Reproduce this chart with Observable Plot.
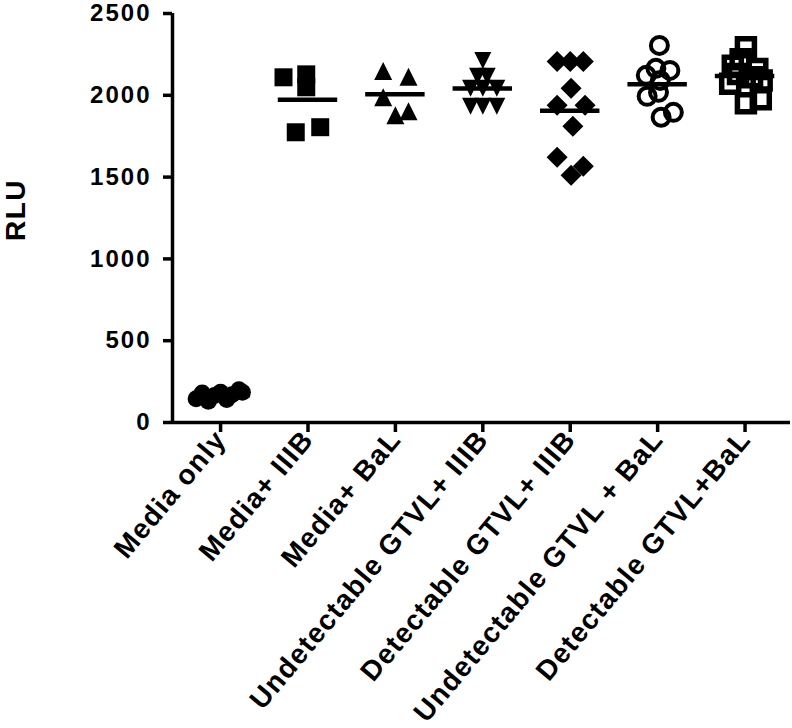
<!DOCTYPE html>
<html><head><meta charset="utf-8">
<script src="https://cdn.jsdelivr.net/npm/d3@7"></script>
<script src="https://cdn.jsdelivr.net/npm/@observablehq/plot@0.6"></script>
<style>
body{margin:0;background:#fff}
svg{font-family:"Liberation Sans",Arial,sans-serif;}
g[aria-label="y-axis tick label"] text{letter-spacing:2px}
g[aria-label="x-axis tick label"] text{letter-spacing:1.2px}
</style>
</head><body><div id="chart"></div>
<script>
const categories = ["Media only","Media+ IIIB","Media+ BaL","Undetectable GTVL+ IIIB","Detectable GTVL+ IIIB","Undetectable GTVL + BaL","Detectable GTVL+BaL"];
const yTicks = [0, 500, 1000, 1500, 2000, 2500];
const yLabel = "RLU";

// values (RLU) and horizontal scatter (fraction of category spacing)
const mediaOnly = [145, 180, 130, 165, 185, 140, 170, 200, 185];
const mediaOnlyJitter = [-0.28, -0.21, -0.14, -0.07, 0, 0.07, 0.13, 0.21, 0.25];
const mediaIIIB = [2110, 2128, 2049, 1774, 1805];
const mediaIIIBJitter = [-0.28, -0.02, -0.02, -0.14, 0.14];
const mediaBaL = [2149, 2113, 1988, 1878, 1902];
const mediaBaLJitter = [-0.14, 0.15, -0.14, 0, 0.15];
const undetIIIB = [2213, 2116, 2116, 2043, 2043, 2043, 1933, 1933, 1933];
const undetIIIBJitter = [0, -0.06, 0.05, -0.14, 0, 0.16, -0.14, 0, 0.16];
const detIIIB = [2207, 2207, 2207, 2043, 1939, 1939, 1811, 1622, 1512, 1567];
const detIIIBJitter = [-0.15, 0, 0.15, 0.01, -0.15, 0.17, 0.03, -0.15, 0.01, 0.15];
const undetBaL = [2305, 2122, 2165, 2152, 2091, 1994, 2018, 1866, 1896];
const undetBaLJitter = [0.02, -0.13, -0.02, 0.14, 0.03, -0.12, 0.01, 0.04, 0.18];
const detBaL = [2293, 2220, 2180, 2160, 2130, 2110, 2090, 2070, 1976, 1951];
const detBaLJitter = [0.01, -0.05, -0.14, 0.14, -0.08, 0.08, 0.19, -0.17, 0.18, 0.01];

const R = (size) => Math.sqrt(size / Math.PI);
const symSquare = {draw(c, s){const r=R(s); c.moveTo(-r,-r); c.lineTo(r,-r); c.lineTo(r,r); c.lineTo(-r,r); c.closePath();}};
const symTriUp = {draw(c, s){const r=R(s); c.moveTo(0,-r); c.lineTo(r,r); c.lineTo(-r,r); c.closePath();}};
const symTriDown = {draw(c, s){const r=R(s); c.moveTo(0,r); c.lineTo(r,-r); c.lineTo(-r,-r); c.closePath();}};
const symDiamond = {draw(c, s){const r=R(s); c.moveTo(0,-r); c.lineTo(r,0); c.lineTo(0,r); c.lineTo(-r,0); c.closePath();}};
const symCircle = {draw(c, s){const r=R(s); c.moveTo(r,0); c.arc(0,0,r,0,2*Math.PI); c.closePath();}};

const groups = [
  {values: mediaOnly, jitter: mediaOnlyJitter, symbol: symCircle, fill: "black", stroke: "none", r: 8.5, sw: 0},
  {values: mediaIIIB, jitter: mediaIIIBJitter, symbol: symSquare, fill: "black", stroke: "none", r: 9, sw: 0},
  {values: mediaBaL, jitter: mediaBaLJitter, symbol: symTriUp, fill: "black", stroke: "none", r: 9, sw: 0},
  {values: undetIIIB, jitter: undetIIIBJitter, symbol: symTriDown, fill: "black", stroke: "none", r: 8.5, sw: 0},
  {values: detIIIB, jitter: detIIIBJitter, symbol: symDiamond, fill: "black", stroke: "none", r: 10.5, sw: 0},
  {values: undetBaL, jitter: undetBaLJitter, symbol: symCircle, fill: "none", stroke: "black", r: 8.5, sw: 4},
  {values: detBaL, jitter: detBaLJitter, symbol: symSquare, fill: "none", stroke: "black", r: 8.5, sw: 5.5}
];

const xDomain = [-0.55, 6.52];
const yDomain = [0, 2500];
const lw = 3.5;

const marks = [];
groups.forEach((g, i) => {
  const rows = g.values.map((v, j) => ({x: i + g.jitter[j], y: v}));
  marks.push(Plot.dot(rows, {x: "x", y: "y", symbol: g.symbol, r: g.r, fill: g.fill, stroke: g.stroke, strokeWidth: g.sw}));
});
const means = groups.map((g, i) => ({i, m: d3.mean(g.values)}));
marks.push(Plot.ruleY(means, {y: "m", x1: d => d.i - 0.34, x2: d => d.i + 0.34, strokeWidth: 4.5, stroke: "black"}));

marks.push(Plot.ruleY([0], {x1: xDomain[0], x2: xDomain[1], strokeWidth: lw}));
marks.push(Plot.ruleX([xDomain[0]], {y1: yDomain[0], y2: yDomain[1], strokeWidth: lw}));
marks.push(Plot.axisY({ticks: yTicks, tickFormat: d => String(d), tickSize: 9, tickPadding: 12, fontSize: 24, fontWeight: "bold", label: null}));
marks.push(Plot.axisX({ticks: d3.range(7), tickFormat: i => categories[i], tickSize: 10, tickRotate: -50, tickPadding: 2, fontSize: 28, fontWeight: "bold", label: null}));
marks.push(Plot.text([yLabel], {text: d => d, x: () => xDomain[0], y: () => d3.mean(yDomain), dx: -156, dy: -8, rotate: -90, fontSize: 28, fontWeight: "bold"}));

const chart = Plot.plot({
  width: 792, height: 728,
  marginLeft: 172, marginRight: 2, marginTop: 13, marginBottom: 306,
  style: {fontFamily: "'Liberation Sans', Arial, sans-serif", color: "black", background: "white"},
  x: {domain: xDomain},
  y: {domain: yDomain},
  marks
});
d3.select(chart).selectAll('g[aria-label="y-axis tick"], g[aria-label="x-axis tick"]').attr("stroke-width", lw).selectAll("path").attr("stroke-width", lw);
d3.select(chart).selectAll('g[aria-label="text"] text').style("letter-spacing", "1.5px");
document.getElementById("chart").appendChild(chart);
</script>
</body></html>
